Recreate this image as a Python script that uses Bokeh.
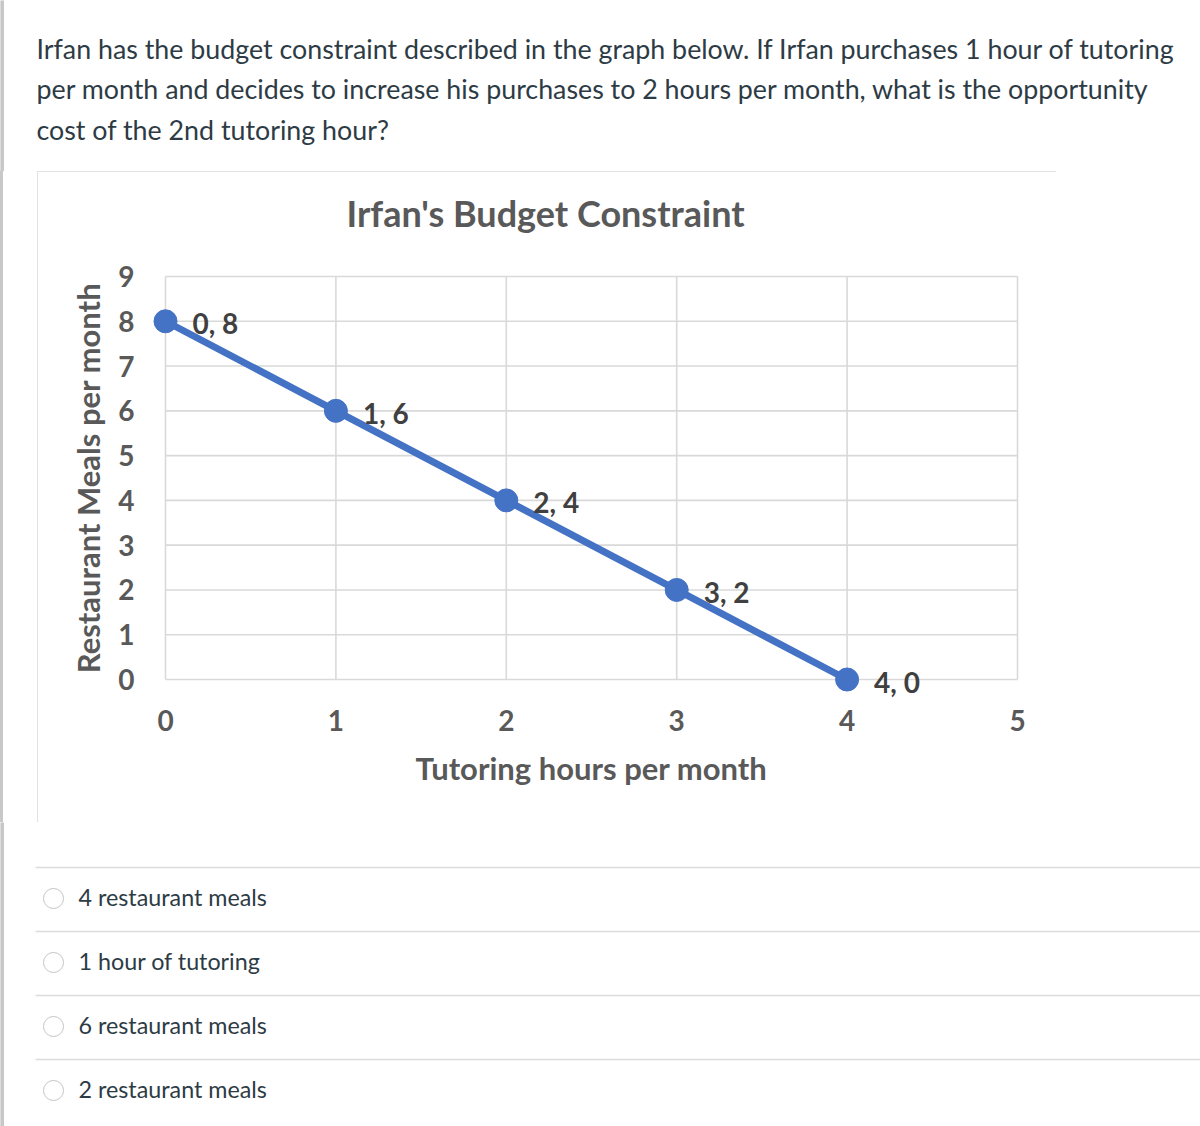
from bokeh.plotting import figure
from bokeh.layouts import column, row
from bokeh.models import Range1d, FixedTicker, Title, Div
from bokeh.core.properties import value
from bokeh.embed import file_html
from bokeh.resources import INLINE

# ---------------- data ----------------
question_lines = [
    "Irfan has the budget constraint described in the graph below.  If Irfan purchases 1 hour of tutoring",
    "per month and decides to increase his purchases to 2 hours per month, what is the opportunity",
    "cost of the 2nd tutoring hour?",
]
chart_title = "Irfan's Budget Constraint"
x_axis_title = "Tutoring hours per month"
y_axis_title = "Restaurant Meals per month"
tutoring_hours = [0, 1, 2, 3, 4]
restaurant_meals = [8, 6, 4, 2, 0]
x_ticks = [0, 1, 2, 3, 4, 5]
y_ticks = [0, 1, 2, 3, 4, 5, 6, 7, 8, 9]
answer_options = ["4 restaurant meals", "1 hour of tutoring",
                  "6 restaurant meals", "2 restaurant meals"]

# ---------------- styles ----------------
PAGE_W, PAGE_H = 1200, 1126
HEADER_H = 171
BOX_L, BOX_W, BOX_H = 37, 1019, 651
OPTS_H = PAGE_H - HEADER_H - BOX_H
FONT = value("Lato")
TEXT_DARK = "#2d3b45"
CHART_GREY = "#595959"
LABEL_GREY = "#404040"
BLUE = "#4472C4"
GRID = "#d9d9d9"
PAGE_RULE = "#c8c8c8"
SEP = "#dcdcdc"
RULE_BG = f"linear-gradient(to right, {PAGE_RULE} 0px, {PAGE_RULE} 3px, #ffffff 3px)"


def blank(w, h, y_top, y_bottom):
    f = figure(width=w, height=h, x_range=Range1d(0, w), y_range=Range1d(y_bottom, y_top),
               output_backend="svg", toolbar_location=None, min_border=0,
               x_axis_location=None, y_axis_location=None)
    f.grid.visible = False
    f.outline_line_color = None
    f.background_fill_color = "white"
    f.border_fill_color = "white"
    f.quad(left=[0], right=[3], top=[y_top], bottom=[y_bottom], color=PAGE_RULE)
    return f


# ---------------- header ----------------
header = blank(PAGE_W, HEADER_H, 0, HEADER_H)
header.text(x=[36] * len(question_lines),
            y=[48 + 40.5 * i for i in range(len(question_lines))],
            text=question_lines, text_font=FONT, text_font_size="26.8px",
            text_color=TEXT_DARK, text_baseline="middle", text_align="left")

# ---------------- left strip (page rule) ----------------
strip = Div(text=f'<div style="width:3px;height:{BOX_H}px;background:{PAGE_RULE};margin:0;padding:0"></div>',
            width=BOX_L, height=BOX_H, styles={"background": RULE_BG, "margin": "0", "padding": "0"})

# ---------------- chart ----------------
pad_x = 14 / 170.4
pad_y = 20 / 44.8
chart = figure(width=BOX_W, height=BOX_H,
               x_range=Range1d(x_ticks[0] - pad_x, x_ticks[-1] + pad_x),
               y_range=Range1d(y_ticks[0] - pad_y, y_ticks[-1] + pad_y),
               output_backend="svg", toolbar_location=None, title_location=None,
               min_border_left=114, min_border_right=25,
               min_border_top=85, min_border_bottom=123)
chart.styles = {"outline": "2px solid #d9d9d9", "outline-offset": "-2px"}
chart.grid.visible = False
chart.outline_line_color = None
chart.background_fill_color = "white"
chart.border_fill_color = "white"

# gridlines from tick lists
chart.segment(x0=x_ticks, y0=[y_ticks[0]] * len(x_ticks), x1=x_ticks,
              y1=[y_ticks[-1]] * len(x_ticks), line_color=GRID, line_width=1.6)
chart.segment(x0=[x_ticks[0]] * len(y_ticks), y0=y_ticks,
              x1=[x_ticks[-1]] * len(y_ticks), y1=y_ticks, line_color=GRID, line_width=1.6)

chart.line(tutoring_hours, restaurant_meals, line_color=BLUE, line_width=7)
chart.scatter(tutoring_hours, restaurant_meals, marker="circle", size=23,
              fill_color=BLUE, line_color=BLUE)
chart.text(x=tutoring_hours, y=restaurant_meals,
           text=[f"{h}, {m}" for h, m in zip(tutoring_hours, restaurant_meals)],
           x_offset=27, y_offset=2, text_font=FONT, text_font_style="bold",
           text_font_size="28px", text_color=LABEL_GREY, text_baseline="middle")

chart.xaxis.ticker = FixedTicker(ticks=x_ticks)
chart.yaxis.ticker = FixedTicker(ticks=y_ticks)
chart.xaxis.axis_label = x_axis_title
chart.yaxis.axis_label = y_axis_title
for ax in chart.axis:
    ax.axis_line_color = None
    ax.major_tick_line_color = None
    ax.minor_tick_line_color = None
    ax.major_tick_out = 0
    ax.major_tick_in = 0
    ax.major_label_text_font = "Lato"
    ax.major_label_text_font_style = "bold"
    ax.major_label_text_font_size = "28px"
    ax.major_label_text_color = CHART_GREY
    ax.axis_label_text_font = "Lato"
    ax.axis_label_text_font_style = "bold"
    ax.axis_label_text_font_size = "31px"
    ax.axis_label_text_color = CHART_GREY
chart.xaxis.major_label_standoff = 10
chart.yaxis.major_label_standoff = 17
chart.xaxis.axis_label_standoff = 15
chart.yaxis.axis_label_standoff = 8

# spacer title next to the frame pushes the real title up
chart.add_layout(Title(text=" ", text_font_size="10px", standoff=4), "above")
chart.add_layout(Title(text=chart_title, text_font="Lato", text_font_style="bold",
                       text_font_size="36px", text_color=CHART_GREY,
                       align="left", offset=195), "above")

# ---------------- options ----------------
opts = blank(PAGE_W, OPTS_H, BOX_H + HEADER_H, PAGE_H)
sep_y = [867 + 64 * i for i in range(len(answer_options))]
opts.segment(x0=[35] * len(sep_y), y0=sep_y, x1=[PAGE_W] * len(sep_y), y1=sep_y,
             line_color=SEP, line_width=1.5)
opts.scatter(x=[53] * len(sep_y), y=[s + 31 for s in sep_y], marker="circle", size=20,
             fill_color="white", line_color="#c4c4c4", line_width=1)
opts.text(x=[78] * len(sep_y), y=[s + 29 for s in sep_y], text=answer_options,
          text_font=FONT, text_font_size="23.3px", text_color=TEXT_DARK,
          text_baseline="middle", text_align="left")

middle = row(strip, chart, styles={"background": RULE_BG})
page = column(header, middle, opts)
open("out.html", "w").write(file_html(page, INLINE))
